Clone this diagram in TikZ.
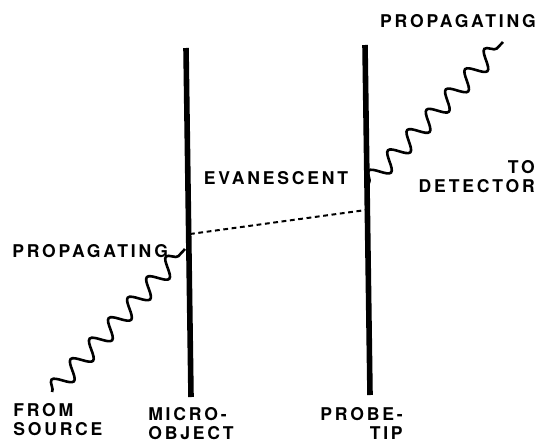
\documentclass[tikz,border=0pt]{standalone}
\usepackage{fontspec}
\setmainfont{TeX Gyre Heros}
\newfontfamily\lettering[LetterSpace=16]{TeX Gyre Heros}
\usetikzlibrary{decorations.pathmorphing}

\begin{document}
\begin{tikzpicture}[x=0.25mm, y=-0.25mm,
  bar/.style={line width=1.4mm},
  wave/.style={line width=0.65mm, decorate,
    decoration={snake, segment length=7mm, amplitude=2.2mm}},
  lbl/.style={font=\lettering\bfseries\fontsize{12.5}{13.6}\selectfont, inner sep=0pt}]
\useasboundingbox (0,0) rectangle (537,444);

% Micro-object and probe tip
\coordinate (mtop) at (186,48);
\coordinate (mbot) at (191,397);
\coordinate (ptop) at (365,45);
\coordinate (pbot) at (370,395);
\draw[bar] (mtop) -- (mbot);
\draw[bar] (ptop) -- (pbot);

% Propagating waves
\coordinate (src) at (52,392);
\coordinate (min) at (185,249);
\coordinate (pout) at (369,183);
\coordinate (det) at (503,42);
\draw[wave] (src) -- (min);
\draw[wave] (pout) -- (det);

% Evanescent coupling across the gap
\coordinate (mev) at (190,234);
\coordinate (pev) at (366,210);
\draw[line width=0.5mm, dash pattern=on 1.2mm off 0.9mm] (mev) -- (pev);

% Labels
\node[lbl, anchor=west] (prop1) at (12,251) {PROPAGATING};
\node[lbl] (prop2) at (458,21) {PROPAGATING};
\node[lbl] (evan) at (276,178) {EVANESCENT};
\node[lbl, align=left, anchor=north west] (source) at (13,403) {FROM\\SOURCE};
\node[lbl, align=right, anchor=north east] (detector) at (535,160) {TO\\DETECTOR};
\node[lbl, align=left, anchor=north west] (micro) at (148,407) {MICRO-\\OBJECT};
\node[lbl, align=right, anchor=north east] (probe) at (403,407) {PROBE-\\TIP};

\end{tikzpicture}
\end{document}
